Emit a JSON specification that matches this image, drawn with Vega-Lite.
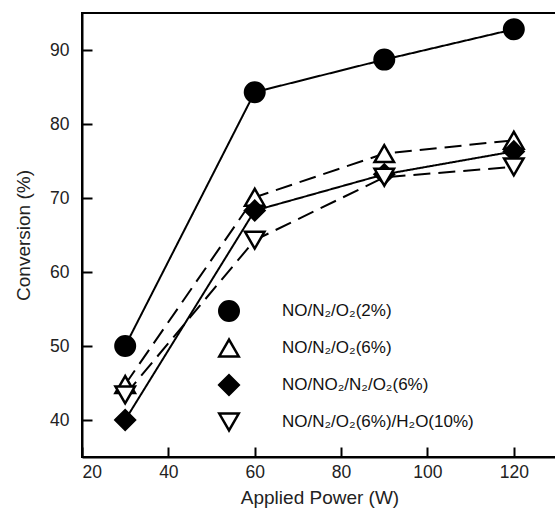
{
  "$schema": "https://vega.github.io/schema/vega-lite/v6.json",
  "width": 475,
  "height": 444,
  "autosize": {"type": "none"},
  "padding": {"left": 82, "top": 13, "right": 0, "bottom": 54},
  "background": "white",
  "config": {
    "font": "Liberation Sans",
    "view": {"stroke": "black", "strokeWidth": 2},
    "legend": {"labelFontSize": 17, "labelFont": "Liberation Sans", "labelColor": "#111", "labelLimit": 400, "symbolStrokeWidth": 2.5, "symbolSize": 380, "labelOffset": 42, "rowPadding": 8, "orient": "none", "legendX": 136, "legendY": 287, "title": null}
  },
  "data": {
    "values": [
      {"series": "NO/N₂/O₂(2%)", "power": 30, "conversion": 50.0},
      {"series": "NO/N₂/O₂(2%)", "power": 60, "conversion": 84.3},
      {"series": "NO/N₂/O₂(2%)", "power": 90, "conversion": 88.7},
      {"series": "NO/N₂/O₂(2%)", "power": 120, "conversion": 92.8},
      {"series": "NO/N₂/O₂(6%)", "power": 30, "conversion": 44.8},
      {"series": "NO/N₂/O₂(6%)", "power": 60, "conversion": 70.1},
      {"series": "NO/N₂/O₂(6%)", "power": 90, "conversion": 76.0},
      {"series": "NO/N₂/O₂(6%)", "power": 120, "conversion": 77.8},
      {"series": "NO/NO₂/N₂/O₂(6%)", "power": 30, "conversion": 40.0},
      {"series": "NO/NO₂/N₂/O₂(6%)", "power": 60, "conversion": 68.3},
      {"series": "NO/NO₂/N₂/O₂(6%)", "power": 90, "conversion": 73.2},
      {"series": "NO/NO₂/N₂/O₂(6%)", "power": 120, "conversion": 76.3},
      {"series": "NO/N₂/O₂(6%)/H₂O(10%)", "power": 30, "conversion": 43.4},
      {"series": "NO/N₂/O₂(6%)/H₂O(10%)", "power": 60, "conversion": 64.3},
      {"series": "NO/N₂/O₂(6%)/H₂O(10%)", "power": 90, "conversion": 72.8},
      {"series": "NO/N₂/O₂(6%)/H₂O(10%)", "power": 120, "conversion": 74.2}
    ]
  },
  "layer": [
    {
      "mark": {"type": "line", "color": "black", "strokeWidth": 2},
      "encoding": {
        "x": {
          "field": "power", "type": "quantitative",
          "scale": {"domain": [20, 130], "nice": false, "zero": false},
          "axis": {
            "values": [20, 40, 60, 80, 100, 120], "title": "Applied Power (W)",
            "grid": false, "domainColor": "black", "domainWidth": 2, "tickColor": "black", "tickWidth": 2, "tickSize": -10,
            "labelFont": "Liberation Sans", "labelFontSize": 17.5, "labelColor": "#222", "labelPadding": 16,
            "titleFont": "Liberation Sans", "titleFontSize": 19, "titleFontWeight": "normal", "titleColor": "#222", "titlePadding": 8
          }
        },
        "y": {
          "field": "conversion", "type": "quantitative",
          "scale": {"domain": [35, 95], "nice": false, "zero": false},
          "axis": {
            "values": [40, 50, 60, 70, 80, 90], "title": "Conversion (%)",
            "grid": false, "domainColor": "black", "domainWidth": 2, "tickColor": "black", "tickWidth": 2, "tickSize": -10,
            "labelFont": "Liberation Sans", "labelFontSize": 17.5, "labelColor": "#222", "labelPadding": 23,
            "titleFont": "Liberation Sans", "titleFontSize": 19, "titleFontWeight": "normal", "titleColor": "#222", "titlePadding": 16
          }
        },
        "detail": {"field": "series"},
        "strokeDash": {
          "field": "series", "type": "nominal",
          "scale": {
            "domain": ["NO/N₂/O₂(2%)", "NO/NO₂/N₂/O₂(6%)", "NO/N₂/O₂(6%)", "NO/N₂/O₂(6%)/H₂O(10%)"],
            "range": [[1, 0], [1, 0], [17, 8], [17, 8]]
          },
          "legend": null
        }
      }
    },
    {
      "mark": {"type": "point", "filled": true, "strokeWidth": 2.5, "opacity": 1, "size": 380},
      "encoding": {
        "x": {"field": "power", "type": "quantitative"},
        "y": {"field": "conversion", "type": "quantitative"},
        "shape": {
          "field": "series", "type": "nominal",
          "scale": {
            "domain": ["NO/N₂/O₂(2%)", "NO/N₂/O₂(6%)", "NO/NO₂/N₂/O₂(6%)", "NO/N₂/O₂(6%)/H₂O(10%)"],
            "range": ["circle", "triangle-up", "diamond", "triangle-down"]
          }
        },
        "fill": {
          "field": "series", "type": "nominal",
          "scale": {
            "domain": ["NO/N₂/O₂(2%)", "NO/N₂/O₂(6%)", "NO/NO₂/N₂/O₂(6%)", "NO/N₂/O₂(6%)/H₂O(10%)"],
            "range": ["black", "white", "black", "white"]
          }
        },
        "stroke": {
          "field": "series", "type": "nominal",
          "scale": {
            "domain": ["NO/N₂/O₂(2%)", "NO/N₂/O₂(6%)", "NO/NO₂/N₂/O₂(6%)", "NO/N₂/O₂(6%)/H₂O(10%)"],
            "range": ["black", "black", "black", "black"]
          }
        }
      }
    }
  ]
}
